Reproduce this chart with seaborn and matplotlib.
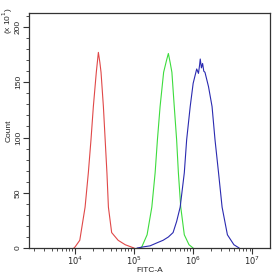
import numpy as np
import pandas as pd
import seaborn as sns
import matplotlib.pyplot as plt
from matplotlib.ticker import FixedLocator, LogLocator, NullFormatter

# 히스토그램 값 (log10 FITC-A, Count x10)
red_logx = [3.98, 4.0, 4.08, 4.17, 4.225, 4.27, 4.31, 4.36, 4.395, 4.42, 4.44, 4.48, 4.51, 4.54, 4.565, 4.62, 4.73, 4.85, 5.0]
red_count = [0, 1, 7, 37, 68, 98, 128, 159, 177, 168, 159, 128, 98, 68, 37, 14, 7, 3, 0]

green_logx = [5.1, 5.13, 5.22, 5.30, 5.356, 5.395, 5.44, 5.50, 5.55, 5.58, 5.61, 5.64, 5.68, 5.72, 5.75, 5.79, 5.85, 5.93, 6.0]
green_count = [0, 1, 12, 37, 68, 98, 128, 159, 170, 176, 168, 159, 128, 98, 68, 37, 12, 3, 0]

blue_logx = [5.05, 5.15, 5.27, 5.4, 5.49, 5.58, 5.66, 5.72, 5.78, 5.85, 5.89, 5.95, 6.0, 6.06, 6.09, 6.11, 6.12, 6.14, 6.16, 6.18, 6.2, 6.26, 6.32, 6.37, 6.43, 6.49, 6.58, 6.69, 6.78]
blue_count = [0, 1, 2, 5, 7, 10, 14, 24, 37, 68, 98, 128, 149, 162, 158, 166, 171, 163, 167, 160, 159, 146, 128, 98, 68, 37, 12, 3, 0]

frames = []
for name, lx, c in [('red', red_logx, red_count), ('green', green_logx, green_count), ('blue', blue_logx, blue_count)]:
    frames.append(pd.DataFrame({'FITC': 10 ** np.array(lx), 'Count': c, 'sample': name}))
df = pd.concat(frames, ignore_index=True)

sns.set_style("white")
plt.rcParams['font.family'] = ['Liberation Sans', 'DejaVu Sans']

fig = plt.figure(figsize=(2.76, 2.75), dpi=100)
ax = fig.add_axes([0.105, 0.098, 0.873, 0.855])

sns.lineplot(data=df, x='FITC', y='Count', hue='sample', units='sample', estimator=None, sort=False,
             palette={'red': '#e04848', 'green': '#3ddc3d', 'blue': '#2a2ab0'},
             linewidth=0.8, legend=False, ax=ax)

ax.set_xscale('log')
ax.set_xlim(10 ** 3.22, 10 ** 7.3)
ax.set_ylim(0, 212.7)
ax.xaxis.set_major_locator(FixedLocator([1e4, 1e5, 1e6, 1e7]))
ax.set_xticklabels(['$10^4$', '$10^5$', '$10^6$', '$10^7$'])
ax.xaxis.set_minor_locator(LogLocator(base=10, subs=np.arange(2, 10)))
ax.xaxis.set_minor_formatter(NullFormatter())
ax.set_yticks([0, 50, 100, 150, 200])
ax.set_yticks(np.arange(0, 211, 10), minor=True)
for lab in ax.get_yticklabels():
    lab.set_rotation(90)
    lab.set_va('center')

ax.tick_params(axis='both', which='major', direction='out', length=4, width=0.8, labelsize=6, pad=1, color='#333333')
ax.tick_params(axis='both', which='minor', direction='out', length=2, width=0.6, color='#333333')
ax.tick_params(left=True, bottom=True, which='both')

for s in ax.spines.values():
    s.set_color('#333333')
    s.set_linewidth(0.9)

ax.set_xlabel('FITC-A', fontsize=6, labelpad=0)
ax.set_ylabel('Count', fontsize=6, labelpad=2)
fig.text(0.03, 0.925, '(x 10$^1$)', rotation=90, fontsize=6, ha='center', va='center')

plt.savefig('out.png', dpi=100)
